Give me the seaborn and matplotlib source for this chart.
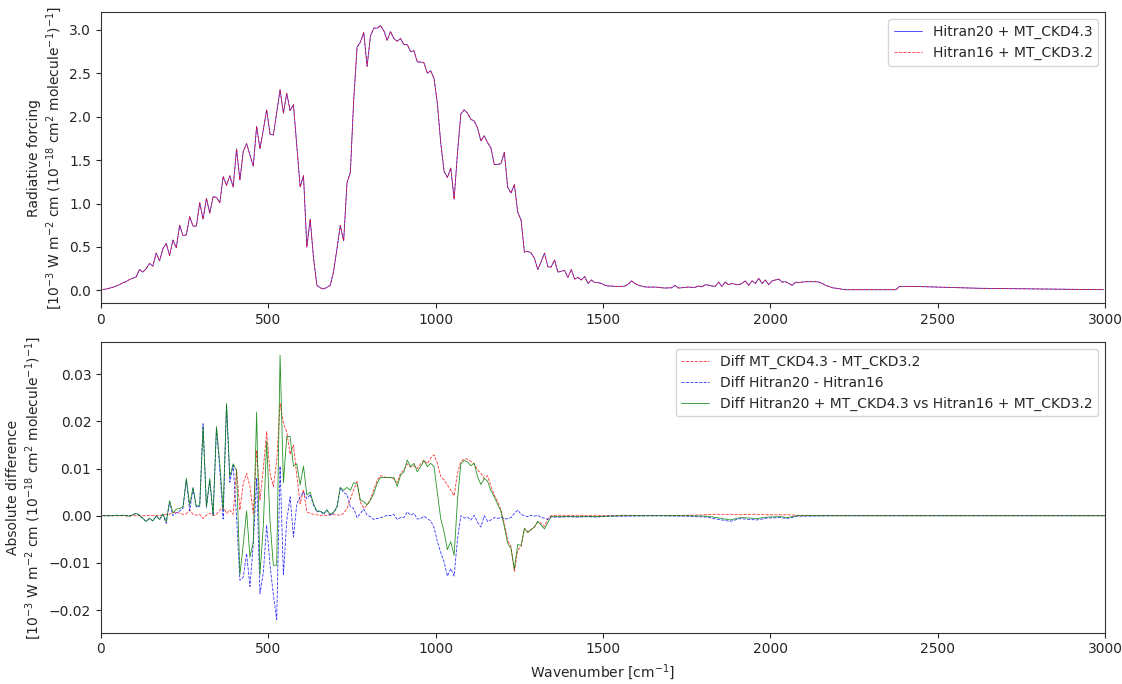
import numpy as np
import pandas as pd
import matplotlib
matplotlib.use("Agg")
import matplotlib.pyplot as plt
import seaborn as sns

# ---------------- data: top panel (radiative forcing) ----------------
wn_top_main = np.arange(5, 2226, 10)
wn_top_tail = [2275, 2325, 2375, 2385, 2425, 2525, 2625, 2725, 2825, 2995]

rf_hitran20 = [
    0.01, 0.015, 0.025, 0.035, 0.05, 0.065, 0.087, 0.10, 0.125, 0.14,      # 5-95
    0.155, 0.24, 0.21, 0.25, 0.31, 0.28, 0.43, 0.34, 0.48, 0.54,           # 105-195
    0.40, 0.58, 0.49, 0.75, 0.63, 0.64, 0.85, 0.74, 0.74, 1.01,            # 205-295
    0.82, 1.06, 0.89, 1.08, 1.07, 1.01, 1.31, 1.21, 1.32, 1.19,            # 305-395
    1.63, 1.27, 1.60, 1.69, 1.56, 1.43, 1.89, 1.63, 1.85, 2.08,            # 405-495
    1.80, 1.79, 2.05, 2.31, 2.04, 2.27, 2.07, 2.14, 1.66, 1.19,            # 505-595
    1.32, 0.50, 0.82, 0.37, 0.06, 0.03, 0.015, 0.035, 0.06, 0.22,          # 605-695
    0.48, 0.75, 0.57, 1.24, 1.36, 2.19, 2.80, 2.86, 2.97, 2.58,            # 705-795
    2.93, 3.02, 3.02, 3.05, 2.99, 2.88, 2.98, 2.90, 2.87, 2.90,            # 805-895
    2.83, 2.83, 2.75, 2.76, 2.63, 2.63, 2.62, 2.50, 2.53, 2.44,            # 905-995
    2.15, 1.70, 1.37, 1.30, 1.41, 1.05, 1.58, 2.03, 2.08, 2.04,            # 1005-1095
    1.97, 1.95, 1.87, 1.72, 1.78, 1.70, 1.64, 1.45, 1.45, 1.46,            # 1105-1195
    1.59, 1.19, 1.12, 1.22, 0.90, 0.81, 0.44, 0.45, 0.43, 0.37,            # 1205-1295
    0.24, 0.33, 0.43, 0.27, 0.27, 0.35, 0.21, 0.22, 0.23, 0.15,            # 1305-1395
    0.24, 0.13, 0.15, 0.12, 0.16, 0.08, 0.12, 0.09, 0.09, 0.08,            # 1405-1495
    0.06, 0.05, 0.05, 0.046, 0.046, 0.046, 0.05, 0.07, 0.11, 0.08,         # 1505-1595
    0.06, 0.05, 0.04, 0.038, 0.038, 0.038, 0.035, 0.03, 0.027, 0.028,      # 1605-1695
    0.03, 0.057, 0.027, 0.03, 0.035, 0.038, 0.035, 0.035, 0.05, 0.04,      # 1705-1795
    0.065, 0.06, 0.05, 0.046, 0.095, 0.046, 0.095, 0.065, 0.08, 0.07,      # 1805-1895
    0.065, 0.08, 0.11, 0.057, 0.11, 0.08, 0.14, 0.08, 0.12, 0.065,         # 1905-1995
    0.11, 0.12, 0.13, 0.095, 0.10, 0.08, 0.057, 0.095, 0.09, 0.095,        # 2005-2095
    0.10, 0.10, 0.10, 0.10, 0.095, 0.08, 0.057, 0.045, 0.03, 0.025,        # 2105-2195
    0.02, 0.012, 0.008,                                                    # 2205-2225
    0.008, 0.008, 0.008, 0.046, 0.046, 0.035, 0.024, 0.02, 0.016, 0.008,   # tail
]
# the two line-by-line set-ups are indistinguishable at this scale
rf_hitran16 = list(rf_hitran20)

# ---------------- data: bottom panel (differences) ----------------
wn_bot_main = np.arange(5, 1346, 10)
wn_bot_tail = [1355, 1375, 1395, 1420, 1450, 1480, 1510, 1560, 1650, 1750,
               1810, 1830, 1855, 1880, 1910, 1940, 1960, 1990, 2030, 2050,
               2080, 2200, 2500, 3000]

diff_ckd = [
    0, 0, 0, 0, 0, 0, 0, 0, 0, 0,
    0, 0, 0, 0, 0.0001, 0, 0.0001, 0, 0.0002, 0.0003,
    0.0003, 0.0006, 0.0008, 0.0005, 0.0003, 0.0004, 0.0012, 0.0003, 0.0001, 0.0003,
    -0.0006, 0.0001, 0.0005, 0.0, 0.0003, 0.0012, 0.0019, 0.0005, 0.0012, 0.0003,
    0.0098, 0.0012, 0.0069, 0.009, 0.0062, 0.0005, 0.0139, 0.0033, 0.0100, 0.0178,
    0.009, 0.0062, 0.0115, 0.0238, 0.0195, 0.0178, 0.013, 0.015, 0.0085, 0.0025,
    0.0055, 0.0008, 0.0005, 0.0003, 0.0002, 0.0, 0.0002, 0.0, 0.0003, 0.0002,
    0.0002, 0.0001, 0.0005, 0.0015, 0.0035, 0.0055, 0.0072, 0.0028, 0.0016, 0.0022,
    0.0035, 0.0055, 0.0075, 0.0085, 0.0083, 0.0080, 0.0081, 0.0078, 0.0070, 0.0090,
    0.0097, 0.0110, 0.0103, 0.0106, 0.0100, 0.0110, 0.0118, 0.0110, 0.0122, 0.0129,
    0.0111, 0.0083, 0.0076, 0.0065, 0.0054, 0.0042, 0.009, 0.0115, 0.012, 0.012,
    0.0115, 0.011, 0.0097, 0.009, 0.0079, 0.0085, 0.0062, 0.0044, 0.003, 0.0012,
    -0.0016, -0.0052, -0.0066, -0.0118, -0.0073, -0.0066, -0.0027, -0.0034, -0.003, -0.0023,
    -0.0013, -0.0016, -0.0023, -0.0006, 0.0,
    0.0001, 0.0001, 0.0, 0.0001, 0.0, 0.0001, 0.0, 0.0001, 0.0, 0.0001,
    0.0002, 0.0003, 0.0003, 0.0003, 0.0002, 0.0003, 0.0003, 0.0002, 0.0002, 0.0002,
    0.0001, 0.0, 0.0, 0.0,
]

diff_hitran = [
    0, 0, 0, 0, 0.0001, 0, 0.0001, 0, -0.0001, 0.0002,
    0.0005, 0.0001, -0.0006, -0.0012, -0.0006, -0.0011, -0.0001, -0.0008, 0.0002, -0.0016,
    0.0029, 0.0, 0.0006, 0.001, 0.0016, 0.0075, 0.0011, 0.0057, 0.0018, 0.002,
    0.0195, 0.0018, 0.0074, 0.0001, 0.0186, 0.0098, -0.0007, 0.0233, 0.0071, 0.0107,
    -0.0003, -0.0137, -0.013, -0.008, -0.015, -0.006, 0.008, -0.0165, -0.012, -0.002,
    -0.0105, -0.0168, -0.022, 0.0105, -0.0125, -0.001, 0.004, -0.0045, 0.0025, 0.004,
    0.005, 0.0036, 0.0045, 0.0022, 0.0008, 0.001, 0.0003, 0.0012, 0.0, 0.0006,
    0.0017, 0.0059, 0.0049, 0.0045, 0.0019, 0.0015, -0.0004, 0.0005, 0.0014, 0.0001,
    -0.0002, -0.0008, -0.0006, -0.0004, -0.0002, 0.0001, 0.0, 0.0003, -0.0008, -0.0004,
    -0.0004, 0.0008, 0.0001, 0.0005, -0.0007, -0.0006, -0.0001, -0.0006, -0.0011, -0.0025,
    -0.0055, -0.0078, -0.0098, -0.0128, -0.0112, -0.0128, -0.005, 0.0, -0.0005, -0.0003,
    -0.0009, 0.0001, -0.0014, -0.0024, 0.0, -0.0012, -0.0009, -0.0004, -0.0006, -0.0003,
    -0.0007, -0.0006, -0.0004, 0.0005, 0.0012, 0.0003, 0.0, -0.0002, 0.0001, -0.0001,
    0.0001, -0.0004, -0.0005, -0.0008, -0.0002,
    -0.0003, -0.0003, -0.0002, -0.0003, -0.0002, -0.0003, -0.0001, -0.0001, 0.0, -0.0001,
    -0.0003, -0.0006, -0.0009, -0.0012, -0.0006, -0.0008, -0.0009, -0.0005, -0.0004, -0.0006,
    -0.0001, 0.0, 0.0, 0.0,
]

diff_total = [
    0, 0, 0, 0, 0.0001, 0, 0.0001, 0, -0.0001, 0.0002,
    0.0005, 0.0001, -0.0006, -0.0012, -0.0005, -0.0011, 0.0, -0.0008, 0.0004, -0.0013,
    0.0032, 0.0006, 0.0014, 0.0015, 0.0019, 0.0079, 0.0023, 0.006, 0.0019, 0.0023,
    0.0189, 0.0019, 0.0079, 0.0001, 0.0189, 0.011, 0.0012, 0.0238, 0.0083, 0.011,
    0.0095, -0.0125, -0.0061, 0.001, -0.0088, -0.0055, 0.022, -0.0125, -0.002, 0.0158,
    -0.0012, -0.0105, -0.0105, 0.034, 0.007, 0.0168, 0.0168, 0.0105, 0.011, 0.0065,
    0.0105, 0.0044, 0.005, 0.0025, 0.001, 0.001, 0.0005, 0.0012, 0.0003, 0.0008,
    0.0019, 0.006, 0.0054, 0.006, 0.0054, 0.007, 0.0068, 0.0033, 0.003, 0.0023,
    0.0033, 0.0047, 0.0069, 0.0081, 0.0081, 0.0081, 0.0081, 0.0081, 0.0062, 0.0086,
    0.0093, 0.0118, 0.0104, 0.0111, 0.0093, 0.0104, 0.0117, 0.0104, 0.0111, 0.0104,
    0.0048, -0.0006, -0.0034, -0.0072, -0.0055, -0.0084, 0.0033, 0.011, 0.0117, 0.0114,
    0.0106, 0.0111, 0.0083, 0.0066, 0.0079, 0.0073, 0.0053, 0.004, 0.0024, 0.0009,
    -0.0023, -0.0058, -0.007, -0.0113, -0.0061, -0.0063, -0.0027, -0.0036, -0.0029, -0.0024,
    -0.0012, -0.002, -0.0028, -0.0014, -0.0002,
    -0.0002, -0.0002, -0.0002, -0.0002, -0.0002, -0.0002, -0.0001, 0.0, 0.0, 0.0,
    -0.0001, -0.0003, -0.0006, -0.0009, -0.0004, -0.0005, -0.0006, -0.0003, -0.0002, -0.0004,
    0.0, 0.0, 0.0, 0.0,
]

wn_top = np.concatenate([wn_top_main, wn_top_tail])
wn_bot = np.concatenate([wn_bot_main, wn_bot_tail])

top_df = pd.DataFrame({"wn": wn_top, "h20": rf_hitran20, "h16": rf_hitran16})
bot_df = pd.DataFrame({"wn": wn_bot, "ckd": diff_ckd, "hit": diff_hitran, "tot": diff_total})

# ---------------- plotting ----------------
sns.set_style("ticks")
plt.rcParams["font.family"] = ["DejaVu Sans"]
plt.rcParams["axes.edgecolor"] = "0.2"
plt.rcParams["xtick.major.size"] = 3.5
plt.rcParams["ytick.major.size"] = 3.5
plt.rcParams["xtick.major.width"] = 0.8
plt.rcParams["ytick.major.width"] = 0.8

fig, (ax1, ax2) = plt.subplots(2, 1, figsize=(11.22, 6.84), dpi=100)
fig.subplots_adjust(left=0.09, right=0.985, top=0.982, bottom=0.075, hspace=0.135)

sns.lineplot(data=top_df, x="wn", y="h20", ax=ax1, color="blue", linewidth=0.6, alpha=0.8,
             estimator=None, sort=False, label="Hitran20 + MT_CKD4.3")
sns.lineplot(data=top_df, x="wn", y="h16", ax=ax1, color="red", linewidth=0.6, alpha=0.8,
             linestyle="--", estimator=None, sort=False, label="Hitran16 + MT_CKD3.2")
ax1.set_xlim(0, 3000)
ax1.set_xlabel("")
ax1.set_ylabel("Radiative forcing\n[$10^{-3}$ W m$^{-2}$ cm ($10^{-18}$ cm$^2$ molecule$^{-1}$)$^{-1}$]")
ax1.legend(loc="upper right", fontsize=10)

sns.lineplot(data=bot_df, x="wn", y="ckd", ax=ax2, color="red", linewidth=0.6, alpha=0.8,
             linestyle="--", estimator=None, sort=False, label="Diff MT_CKD4.3 - MT_CKD3.2")
sns.lineplot(data=bot_df, x="wn", y="hit", ax=ax2, color="blue", linewidth=0.6, alpha=0.8,
             linestyle="--", estimator=None, sort=False, label="Diff Hitran20 - Hitran16")
sns.lineplot(data=bot_df, x="wn", y="tot", ax=ax2, color="green", linewidth=0.6, alpha=0.85,
             estimator=None, sort=False, label="Diff Hitran20 + MT_CKD4.3 vs Hitran16 + MT_CKD3.2")
ax2.set_xlim(0, 3000)
ax2.set_xlabel("Wavenumber [cm$^{-1}$]")
ax2.set_ylabel("Absolute difference\n[$10^{-3}$ W m$^{-2}$ cm ($10^{-18}$ cm$^2$ molecule$^{-1}$)$^{-1}$]")
ax2.legend(loc="upper right", fontsize=10)

fig.savefig("out.png", dpi=100)
